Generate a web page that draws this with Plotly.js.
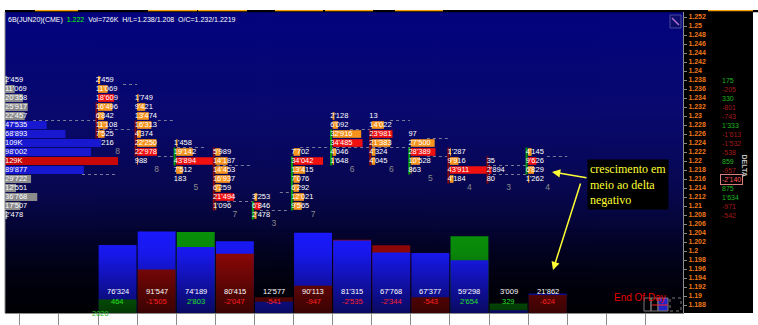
<!DOCTYPE html>
<html><head><meta charset="utf-8">
<script src="https://cdn.plot.ly/plotly-3.0.1.min.js"></script>
<style>html,body{margin:0;padding:0;background:#fff;}#chart{width:758px;height:325px;}</style>
</head><body><div id="chart"></div>
<script>
// ---------------- DATA ----------------
const headerSymbol = "6B(JUN20)(CME)";
const headerLast = "1.222";
const headerRest = "Vol=726K  H/L=1.238/1.208  O/C=1.232/1.2219";

const priceTickLabels = ["1.252","1.25","1.248","1.246","1.244","1.242","1.24","1.238","1.236","1.234","1.232","1.23","1.228","1.226","1.224","1.222","1.22","1.218","1.216","1.214","1.212","1.21","1.208","1.206","1.204","1.202","1.2","1.198","1.196","1.194","1.192","1.19","1.188"];

const profilePrices  = [1.238,1.236,1.234,1.232,1.230,1.228,1.226,1.224,1.222,1.220,1.218,1.216,1.214,1.212,1.210,1.208];
const profileVolumes = [2459,11069,20358,25917,22457,47535,68893,109292,98002,128901,89877,29722,12551,36768,17507,2478];
const profileDeltas  = [175,-205,330,-801,-743,1333,-1613,-1532,-538,859,-957,-2140,875,1634,-971,-542];
const valueAreaHigh = 1.228;
const valueAreaLow  = 1.218;

const colTopPrices = [1.238,1.234,1.224,1.222,1.212,1.222,1.230,1.230,1.226,1.222,1.220,1.222];
const colCells = [
  [2459,11069,18609,16496,6842,11108,7525,2216],
  [1749,9421,13474,16313,4374,22250,22978,988],
  [1458,19142,43894,7512,183],
  [5989,14187,14453,16937,6259,21494,1096],
  [3253,6846,2478],
  [7702,34042,13415,7076,6292,12021,9565],
  [2128,6092,32916,34485,4046,1648],
  [13,14022,23981,21383,4324,4045],
  [97,27500,28389,10528,863],
  [1287,9916,43911,4184],
  [35,2894,80],
  [4145,9626,6829,1262]
];
const colOpens  = [1.232,1.228,1.220,1.222,1.208,1.210,1.220,1.226,1.218,1.222,1.220,1.218];
const colCloses = [1.226,1.222,1.222,1.210,1.210,1.220,1.226,1.220,1.222,1.216,1.216,1.222];
const colVolumes = [76324,91547,74189,80415,12577,90113,81315,67768,67377,59298,3009,21862];
const colDeltas  = [464,-1505,2803,-2047,-541,-947,-2535,-2344,-543,2654,329,-624];

// value-area reference levels drawn as dotted lines: [price, from, to] in column units
const vaLines = [
  [1.237,0.64,1.0],[1.229,-1.66,-0.03],[1.229,1.53,1.97],[1.227,-0.03,0.9],[1.227,6.44,7.0],
  [1.217,-0.41,0.51],[1.223,2.02,2.74],[1.223,5.17,7.98],[1.221,1.53,2.0],[1.221,8.41,8.93],
  [1.221,11.48,12.0],[1.219,3.04,3.96],[1.219,9.95,10.97],[1.211,3.3,3.96],[1.209,4.14,4.9],
  [1.213,4.65,4.99],[1.229,7.47,7.98],[1.225,8.41,9.0],[1.217,9.95,10.97]
];

const noteText = "crescimento em<br>meio ao delta<br>negativo";

// ---------------- GEOMETRY / STYLE ----------------
const PL = 5, PR = 683, PT = 12, PB = 313;
const PW = PR - PL, PH = PB - PT;
const COL0 = 98, COLW = 39.1;
const PX_PER_PRICE = 4500, P_REF = 1.252, Y_REF = 17;
const yTop = P_REF + (Y_REF - PT) / PX_PER_PRICE;
const yBot = P_REF - (PB - Y_REF) / PX_PER_PRICE;
const xMin = (PL - COL0) / COLW, xMax = (PR - COL0) / COLW;
const px2x = p => (p - PL) / PW;
const py2y = p => (PB - p) / PH;

const CELL_VOL_PER_COL = 45000;
const PROFILE_AXIS_MAX = 773000;
const VOL_AXIS_MAX = 337846, DELTA_AXIS_MAX = 10416;

const FONT = "Liberation Sans, Arial, sans-serif";
const ORANGE = "#f7941d", CELLRED = "#f01010";
const BLUE = "#1a1aff", DRED = "#960808", DGREEN = "#0a920a";

const fmt = v => (v < 0 ? "-" : "") + String(Math.abs(v)).replace(/\B(?=(\d{3})+(?!\d))/g, "'");
const fmtProfile = v => v >= 100000 ? Math.round(v / 1000) + "K" : fmt(v);

// ---------------- BACKGROUND IMAGES ----------------
function gradImg(stops, h) {
  const c = document.createElement("canvas"); c.width = 4; c.height = h;
  const g = c.getContext("2d"); const gr = g.createLinearGradient(0, 0, 0, h);
  stops.forEach(s => gr.addColorStop(s[0], s[1]));
  g.fillStyle = gr; g.fillRect(0, 0, 4, h); return c.toDataURL();
}
const bgSrc = gradImg([[0,"#03037e"],[0.35,"#08086c"],[0.6,"#07074e"],[0.8,"#030322"],[1,"#00000a"]], 301);
const shadeSrc = gradImg([[0,"rgba(0,0,0,0)"],[0.3,"rgba(0,0,0,0.08)"],[1,"rgba(0,0,0,0.62)"]], 85);

// ---------------- TRACES ----------------
const traces = [];
const cb = {x:[], y:[], base:[], color:[]};
const ct = {x:[], y:[], text:[]};
const cnt = {x:[], y:[], text:[]};
colCells.forEach((cells, i) => {
  const mx = Math.max(...cells);
  cells.forEach((v, k) => {
    const p = +(colTopPrices[i] - 0.002 * k).toFixed(3);
    cb.x.push(v / CELL_VOL_PER_COL); cb.y.push(p); cb.base.push(i);
    cb.color.push(v === mx ? CELLRED : ORANGE);
    ct.x.push(i - 0.06); ct.y.push(p); ct.text.push(fmt(v));
  });
  cnt.x.push(i + 0.5); cnt.y.push(+(colTopPrices[i] - 0.002 * cells.length).toFixed(3)); cnt.text.push(String(cells.length));
});
traces.push({type:"bar", orientation:"h", x:cb.x, y:cb.y, base:cb.base, width:0.0017,
  marker:{color:cb.color, line:{width:0}}, xaxis:"x", yaxis:"y", hoverinfo:"skip"});
["g","r"].forEach(kind => {
  const xs = [], ys = [];
  colOpens.forEach((o, i) => {
    const c = colCloses[i]; const up = c > o;
    if ((kind === "g") !== up) return;
    xs.push(i - 0.04, i - 0.04, null);
    ys.push(Math.max(o, c) + 0.001, Math.min(o, c) - 0.001, null);
  });
  traces.push({type:"scatter", mode:"lines", x:xs, y:ys, line:{color: kind === "g" ? "#0a9a0a" : "#8a0808", width:2},
    xaxis:"x", yaxis:"y", hoverinfo:"skip"});
});
traces.push({type:"scatter", mode:"text", x:ct.x, y:ct.y, text:ct.text, textposition:"middle right",
  textfont:{family:FONT, size:7.5, color:"#ffffff"}, xaxis:"x", yaxis:"y", hoverinfo:"skip"});
traces.push({type:"scatter", mode:"text", x:cnt.x, y:cnt.y, text:cnt.text, textposition:"middle center",
  textfont:{family:FONT, size:8.5, color:"#8a8a8a"}, xaxis:"x", yaxis:"y", hoverinfo:"skip"});

// volume profile (left)
const pocVol = Math.max(...profileVolumes);
traces.push({type:"bar", orientation:"h", x:profileVolumes, y:profilePrices, base:0, width:0.0018,
  marker:{color: profileVolumes.map((v, k) => v === pocVol ? "#c80808" :
    (profilePrices[k] <= valueAreaHigh + 1e-9 && profilePrices[k] >= valueAreaLow - 1e-9 ? "#1818d0" : "#8c8c8c")), line:{width:0}},
  xaxis:"x2", yaxis:"y", hoverinfo:"skip"});
traces.push({type:"scatter", mode:"text", x:profileVolumes.map(() => 0), y:profilePrices, text:profileVolumes.map(fmtProfile),
  textposition:"middle right", textfont:{family:FONT, size:7.5, color:"#ffffff"}, xaxis:"x2", yaxis:"y", hoverinfo:"skip", cliponaxis:false});

// bottom volume / delta bars (larger one behind, smaller in front)
const colX = colVolumes.map((_, i) => i + 0.5);
const volLarge = colVolumes.map((v, i) => v / VOL_AXIS_MAX >= Math.abs(colDeltas[i]) / DELTA_AXIS_MAX);
const dCol = colDeltas.map(d => d >= 0 ? DGREEN : DRED);
traces.push({type:"bar", x:colX, y:colVolumes.map((v, i) => volLarge[i] ? v : null), width:0.97,
  marker:{color:BLUE, line:{width:0}}, xaxis:"x", yaxis:"y2", hoverinfo:"skip"});
traces.push({type:"bar", x:colX, y:colDeltas.map((d, i) => !volLarge[i] ? Math.abs(d) : null), width:0.97,
  marker:{color:dCol, line:{width:0}}, xaxis:"x", yaxis:"y3", hoverinfo:"skip"});
traces.push({type:"bar", x:colX, y:colVolumes.map((v, i) => !volLarge[i] ? v : null), width:0.97,
  marker:{color:BLUE, line:{width:0}}, xaxis:"x", yaxis:"y4", hoverinfo:"skip"});
traces.push({type:"bar", x:colX, y:colDeltas.map((d, i) => volLarge[i] ? Math.abs(d) : null), width:0.97,
  marker:{color:dCol, line:{width:0}}, xaxis:"x", yaxis:"y5", hoverinfo:"skip"});

// ---------------- SHAPES ----------------
const shapes = [];
shapes.push({type:"rect", xref:"paper", yref:"paper", x0:1, x1:px2x(753), y0:0, y1:py2y(10), fillcolor:"#000", line:{width:0}, layer:"below"});
shapes.push({type:"rect", xref:"paper", yref:"paper", x0:0, x1:px2x(758), y0:py2y(12.3), y1:py2y(10), fillcolor:"#000", line:{width:0}, layer:"below"});
[[35,78],[148,197],[198,247],[275,323],[325,373],[395,443],[708,753]].forEach(s =>
  shapes.push({type:"rect", xref:"paper", yref:"paper", x0:px2x(s[0]), x1:px2x(s[1]), y0:py2y(11.3), y1:py2y(10), fillcolor:"#f5a000", line:{width:0}}));
shapes.push({type:"line", xref:"paper", yref:"paper", x0:0, x1:0, y0:0, y1:1, line:{color:"#8a8a8a", width:1}});
vaLines.forEach(l => shapes.push({type:"line", xref:"x", yref:"y", x0:l[1], x1:l[2], y0:l[0], y1:l[0],
  line:{color:"#7a7a96", width:1, dash:"dot"}, layer:"below"}));
shapes.push({type:"rect", xref:"paper", yref:"paper", x0:px2x(670), x1:px2x(681), y0:py2y(28), y1:py2y(15), fillcolor:"#0c0c6a", line:{color:"#4a4a9a", width:1}});
shapes.push({type:"line", xref:"paper", yref:"paper", x0:px2x(672), x1:px2x(679), y0:py2y(18), y1:py2y(25), line:{color:"#b070d0", width:1.5}});
shapes.push({type:"rect", xref:"paper", yref:"paper", x0:px2x(644), x1:px2x(651), y0:py2y(311), y1:py2y(298), line:{color:"#7a7a7a", width:1}});
shapes.push({type:"rect", xref:"paper", yref:"paper", x0:px2x(651), x1:px2x(658), y0:py2y(311), y1:py2y(298), line:{color:"#7a7a7a", width:1}});
shapes.push({type:"rect", xref:"paper", yref:"paper", x0:px2x(658), x1:px2x(668), y0:py2y(311), y1:py2y(298), fillcolor:"#2424c0", line:{color:"#7a7a7a", width:1}});
shapes.push({type:"line", xref:"paper", yref:"paper", x0:px2x(652), x1:px2x(668), y0:py2y(305), y1:py2y(305), line:{color:"#ff2020", width:1}});
shapes.push({type:"rect", xref:"paper", yref:"paper", x0:px2x(670), x1:px2x(681), y0:py2y(311), y1:py2y(298), line:{color:"#7a7a7a", width:1, dash:"dot"}});

// ---------------- ANNOTATIONS ----------------
const ann = [];
ann.push({xref:"paper", yref:"paper", x:px2x(6), y:py2y(19.5), xanchor:"left", yanchor:"middle", showarrow:false,
  text: headerSymbol + '  <span style="color:#00ff00">' + headerLast + '</span>  ' + headerRest,
  font:{family:FONT, size:7, color:"#ffffff"}});
const maxAbsDelta = Math.max(...profileDeltas.map(Math.abs));
profileDeltas.forEach((d, k) => {
  const boxed = Math.abs(d) === maxAbsDelta;
  ann.push({xref:"paper", yref:"y", x:px2x(boxed ? 720 : 721), y:profilePrices[k], xanchor:"left", yanchor:"middle", showarrow:false,
    text: fmt(d), font:{family:FONT, size:7, color: boxed ? "#ff5a5a" : (d >= 0 ? "#1fb81f" : "#a01a1a")},
    bordercolor: boxed ? "#d88080" : "rgba(0,0,0,0)", borderwidth: boxed ? 1 : 0, borderpad: 1});
});
ann.push({xref:"paper", yref:"paper", x:px2x(750), y:py2y(166), showarrow:false, textangle:90, text:"<b>DELTA</b>",
  font:{family:FONT, size:7, color:"#c4c4c4"}});
colVolumes.forEach((v, i) => {
  ann.push({xref:"x", yref:"paper", x:i + 0.5, y:py2y(298), showarrow:false, text:fmt(v), font:{family:FONT, size:7.5, color:"#ffffff"}});
  ann.push({xref:"x", yref:"paper", x:i + 0.5, y:py2y(307.5), showarrow:false, text:fmt(colDeltas[i]),
    font:{family:FONT, size:7.5, color: colDeltas[i] >= 0 ? "#22e022" : "#ff2020"}});
});
ann.push({xref:"paper", yref:"paper", x:px2x(612), y:py2y(305), xanchor:"left", showarrow:false, text:"End Of Day",
  font:{family:FONT, size:10, color:"#e80000"}});
ann.push({xref:"paper", yref:"paper", x:px2x(90), y:py2y(320), showarrow:false, text:"2020",
  font:{family:FONT, size:7.5, color:"#22c022"}});
ann.push({xref:"paper", yref:"paper", x:px2x(587), y:py2y(159), xanchor:"left", yanchor:"top", showarrow:false, align:"left",
  text:noteText, bgcolor:"#000000", borderpad:2, font:{family:"Liberation Serif, DejaVu Serif, serif", size:12, color:"#ffff33"}});
ann.push({xref:"paper", yref:"paper", x:px2x(552), y:py2y(172), ax:36, ay:6, text:"", showarrow:true,
  arrowhead:2, arrowsize:1.1, arrowwidth:1.5, arrowcolor:"#ffff33"});
ann.push({xref:"paper", yref:"paper", x:px2x(553), y:py2y(270), ax:28, ay:-88, text:"", showarrow:true,
  arrowhead:2, arrowsize:1.1, arrowwidth:1.5, arrowcolor:"#ffff33"});

// ---------------- LAYOUT ----------------
const tickIdx = []; for (let k = -2; k <= 14; k++) tickIdx.push(k);
const layout = {
  width:758, height:325, margin:{l:PL, r:758 - PR, t:PT, b:325 - PB, pad:0},
  paper_bgcolor:"#ffffff", plot_bgcolor:"rgba(0,0,0,0)", showlegend:false, barmode:"overlay",
  xaxis:{range:[xMin, xMax], tickvals:tickIdx, ticks:"outside", ticklen:12, tickcolor:"#8a8a8a", tickwidth:1,
    showticklabels:false, showgrid:false, zeroline:false, showline:true, linecolor:"#8a8a8a", linewidth:1, fixedrange:true},
  xaxis2:{overlaying:"x", range:[0, PROFILE_AXIS_MAX], visible:false, fixedrange:true},
  yaxis:{side:"right", range:[yBot, yTop], tickvals:priceTickLabels.map(Number), ticktext:priceTickLabels,
    tickfont:{family:FONT, size:7, color:"#f07818", weight:"bold"}, ticks:"outside", ticklen:3, tickcolor:"#8a8a8a",
    showgrid:false, zeroline:false, showline:true, linecolor:"#8a8a8a", linewidth:1, fixedrange:true},
  yaxis2:{overlaying:"y", range:[0, VOL_AXIS_MAX], visible:false, fixedrange:true},
  yaxis3:{overlaying:"y", range:[0, DELTA_AXIS_MAX], visible:false, fixedrange:true},
  yaxis4:{overlaying:"y", range:[0, VOL_AXIS_MAX], visible:false, fixedrange:true},
  yaxis5:{overlaying:"y", range:[0, DELTA_AXIS_MAX], visible:false, fixedrange:true},
  images:[
    {source:bgSrc, xref:"paper", yref:"paper", x:0, y:1, sizex:1, sizey:1, sizing:"stretch", xanchor:"left", yanchor:"top", layer:"below"},
    {source:shadeSrc, xref:"paper", yref:"paper", x:0, y:py2y(228), sizex:1, sizey:py2y(228), sizing:"stretch", xanchor:"left", yanchor:"top", layer:"above"}
  ],
  shapes:shapes, annotations:ann
};
Plotly.newPlot("chart", traces, layout, {staticPlot:true, displayModeBar:false});
</script></body></html>
